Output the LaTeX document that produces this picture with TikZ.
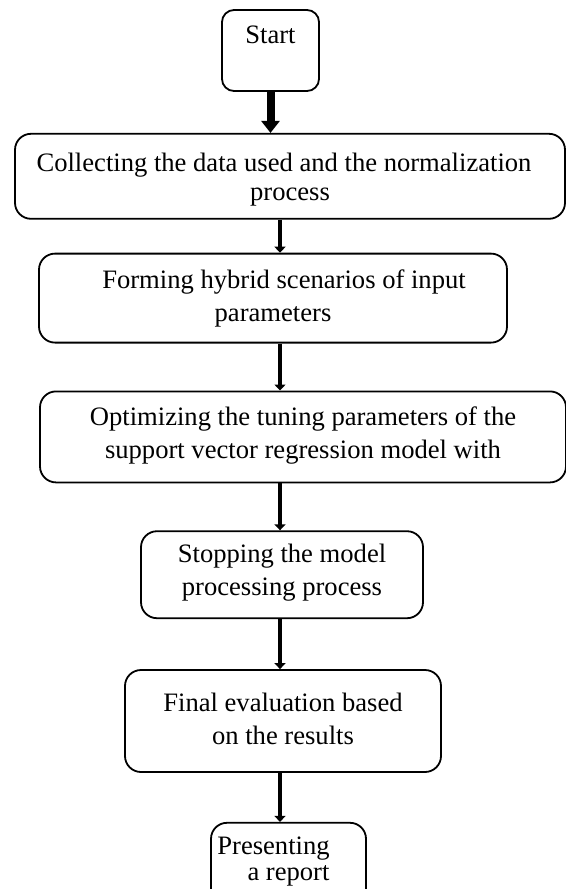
\documentclass[tikz,border=0pt]{standalone}
\usepackage{fontspec}
\setmainfont{Liberation Serif}
\usetikzlibrary{arrows.meta, positioning}
\tikzset{
  stage/.style={draw, rounded corners=8pt, line width=0.9pt, align=center, inner sep=0pt,
    font=\fontsize{13.3}{16.5}\selectfont},
  flow/.style={line width=2.2pt, -{Triangle[length=3pt, width=5.5pt]}},
  bigflow/.style={line width=4pt, -{Triangle[length=6pt, width=9pt]}},
}

\begin{document}
\begin{tikzpicture}
  \useasboundingbox (0,0) rectangle (283pt,-444.5pt);
  \coordinate (spine) at (140pt,0);
  \node[stage, rounded corners=6pt, minimum width=48.5pt, text height=16.5pt, text depth=24pt] (start) at (135.25pt,-25.25pt) {Start};
  \node[stage, minimum width=275pt, text height=33.5pt, text depth=9pt, font=\fontsize{13.3}{14.5}\selectfont] (collect) [below=20.5pt of start, xshift=9.75pt] {Collecting the data used and the normalization\kern6pt\\process};
  \node[stage, minimum width=234pt, text height=34pt, text depth=10.5pt] (hybrid) [below=16.5pt of collect, xshift=-8.5pt] {\kern11pt Forming hybrid scenarios of input\\parameters};
  \node[stage, minimum width=263pt, text height=33.5pt, text depth=12pt] (tuning) [below=23.5pt of hybrid, xshift=15pt] {Optimizing the tuning parameters of the\\support vector regression model with};
  \node[stage, minimum width=141pt, text height=32pt, text depth=11.5pt] (stopping) [below=23.5pt of tuning, xshift=-10.5pt] {Stopping the model\\processing process};
  \node[stage, minimum width=158pt, text height=37pt, text depth=14pt] (evaluation) [below=25pt of stopping, xshift=0.5pt] {Final evaluation based\\on the results};
  \node[stage, minimum width=77.5pt, text height=29pt, text depth=12.5pt, font=\fontsize{13.3}{13}\selectfont] (report) [below=24.5pt of evaluation, xshift=2.75pt] {Presenting\kern15pt\\a report};
  \draw[bigflow] (start.south) -- (start.south |- collect.north);
  \draw[flow] (collect.south -| spine) -- (hybrid.north -| spine);
  \draw[flow] (hybrid.south -| spine) -- (tuning.north -| spine);
  \draw[flow] (tuning.south -| spine) -- (stopping.north -| spine);
  \draw[flow] (stopping.south -| spine) -- (evaluation.north -| spine);
  \draw[flow] (evaluation.south -| spine) -- (report.north -| spine);
\end{tikzpicture}
\end{document}
